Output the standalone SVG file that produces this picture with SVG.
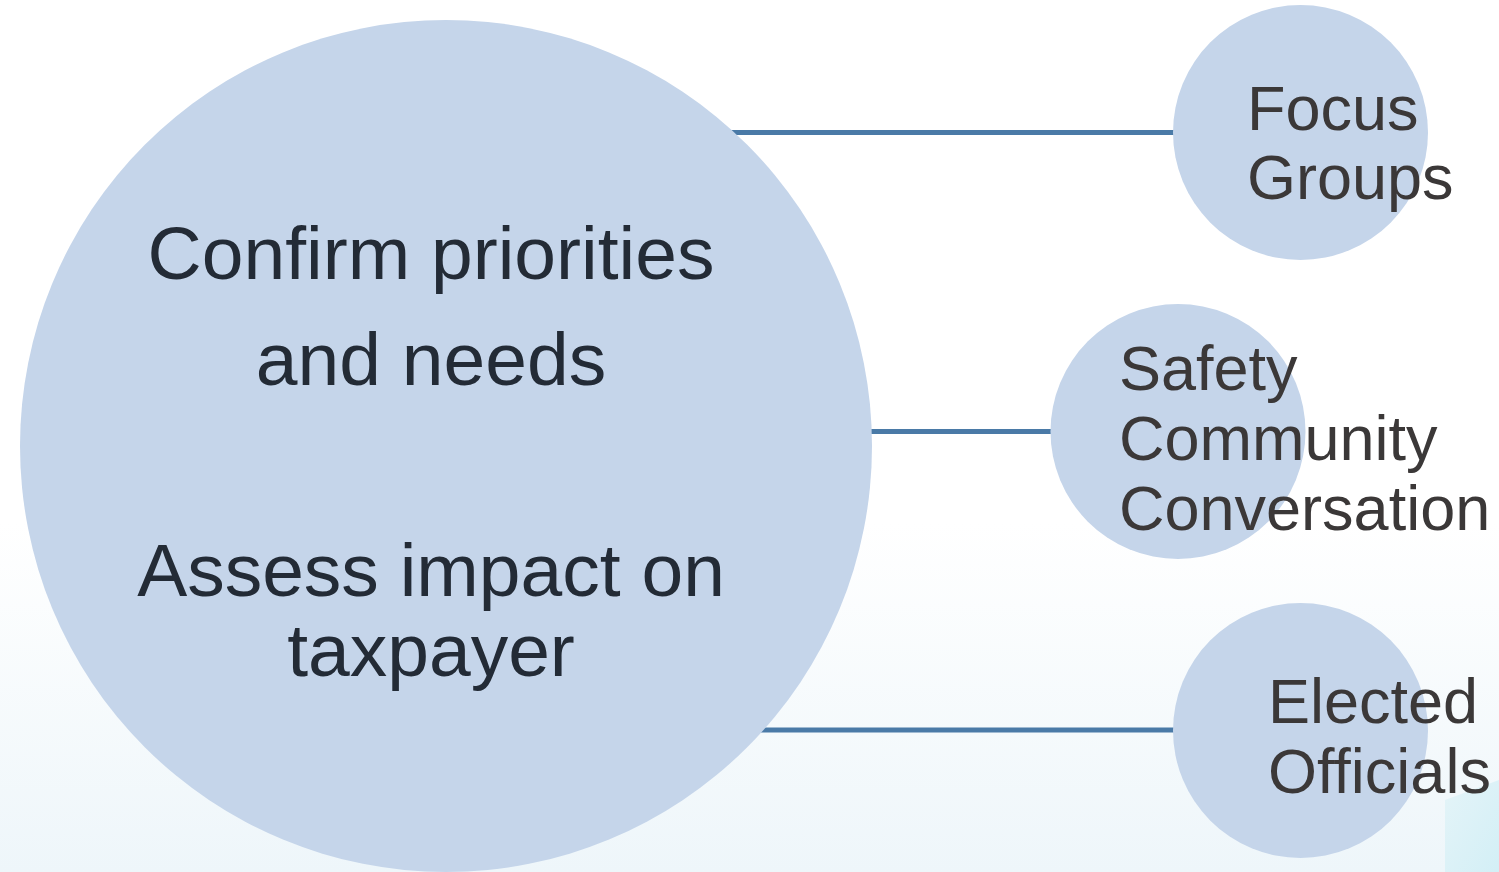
<svg xmlns="http://www.w3.org/2000/svg" width="1499" height="872" viewBox="0 0 1499 872">
<defs>
<linearGradient id="bg" x1="0" y1="0" x2="0" y2="1">
<stop offset="0" stop-color="#ffffff"/>
<stop offset="0.6" stop-color="#ffffff"/>
<stop offset="1" stop-color="#eef6fa"/>
</linearGradient>
<linearGradient id="corner" x1="0" y1="0" x2="1" y2="1">
<stop offset="0" stop-color="#e4f4f8"/>
<stop offset="1" stop-color="#d3eff6"/>
</linearGradient>
</defs>
<style>
.node { fill: #c5d5ea; }
.conn { stroke: #4a7aa7; stroke-width: 5; fill: none; }
.big { font-family: "Liberation Sans", Arial, sans-serif; font-size: 75px; fill: #232b36; text-anchor: middle; }
.small { font-family: "Liberation Sans", Arial, sans-serif; font-size: 63px; fill: #3b3838; }
</style>
<rect x="0" y="0" width="1499" height="872" fill="url(#bg)"/>
<polygon points="1445,800 1499,780 1499,872 1445,872" fill="url(#corner)"/>
<g id="connectors">
<line class="conn" x1="700" y1="132.5" x2="1200" y2="132.5"/>
<line class="conn" x1="860" y1="431.5" x2="1070" y2="431.5"/>
<line class="conn" x1="740" y1="730" x2="1200" y2="730"/>
</g>
<g id="main">
<circle class="node" cx="446" cy="446" r="426"/>
<text class="big" x="431" y="279">Confirm priorities</text>
<text class="big" x="431" y="385">and needs</text>
<text class="big" x="431" y="596">Assess impact on</text>
<text class="big" x="431" y="676">taxpayer</text>
</g>
<g id="focus">
<circle class="node" cx="1300.5" cy="132.5" r="127.5"/>
<text class="small" x="1247" y="130">Focus</text>
<text class="small" x="1247" y="199">Groups</text>
</g>
<g id="safety">
<circle class="node" cx="1178" cy="431.5" r="127.5"/>
<text class="small" x="1119" y="390">Safety</text>
<text class="small" x="1119" y="460">Community</text>
<text class="small" x="1119" y="530">Conversation</text>
</g>
<g id="elected">
<circle class="node" cx="1300.5" cy="730.5" r="127.5"/>
<text class="small" x="1268" y="723">Elected</text>
<text class="small" x="1268" y="793">Officials</text>
</g>
</svg>
